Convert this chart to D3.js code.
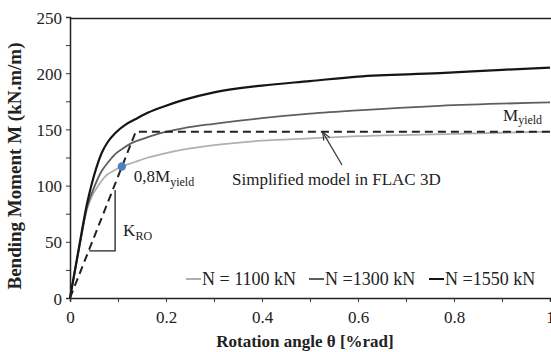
<!DOCTYPE html>
<html>
<head>
<meta charset="utf-8">
<script src="https://cdn.jsdelivr.net/npm/d3@7"></script>
<style>
  body { margin: 0; background: #fff; }
  svg { display: block; }
  text { font-family: "Liberation Serif", "Times New Roman", serif; }
</style>
</head>
<body>
<div class="chart"></div>
<script>
// Series (rotation %rad, moment kN.m/m)
const theta1100 = [0, 0.02, 0.035, 0.045, 0.056, 0.073, 0.09, 0.108, 0.135, 0.163, 0.2, 0.235, 0.3, 0.4, 0.5, 0.6, 0.8, 1.0];
const moment1100 = [0, 46, 78, 90, 98, 108, 113, 117, 121, 125, 129, 132, 136, 140, 142, 144, 146, 148];

const theta1300 = [0, 0.02, 0.035, 0.048, 0.066, 0.08, 0.094, 0.11, 0.129, 0.155, 0.183, 0.235, 0.3, 0.4, 0.5, 0.6, 0.77, 1.0];
const moment1300 = [0, 47, 80, 96, 113, 121, 128, 133, 138, 142, 146, 151, 155, 160, 164, 167, 171, 174];

const theta1550 = [0, 0.02, 0.035, 0.045, 0.055, 0.066, 0.079, 0.095, 0.115, 0.14, 0.163, 0.2, 0.235, 0.3, 0.4, 0.5, 0.6, 0.77, 0.9, 1.0];
const moment1550 = [0, 48, 83, 101, 116, 129, 139, 147, 154, 160, 165, 171, 176, 183, 189, 193, 197, 200, 203, 205];

const thetaModel = [0, 0.137, 1.0];
const momentModel = [0, 148, 148];

const seriesNames = ['N = 1100 kN', 'N =1300 kN', 'N =1550 kN'];
const seriesColors = ['#b0b0b0', '#5e5e5e', '#151515'];

const xTicks = [0, 0.2, 0.4, 0.6, 0.8, 1];
const xTickLabels = ['0', '0.2', '0.4', '0.6', '0.8', '1'];
const yTicks = [0, 50, 100, 150, 200, 250];

// annotation anchors (data space)
const yieldPoint = { theta: 0.108, moment: 117 };
const kroTriangle = [[0.04, 42], [0.094, 42], [0.094, 96]];

const width = 551, height = 352;
const margin = { left: 70, right: 1, top: 17, bottom: 54 };
const serif = '"Liberation Serif", "Times New Roman", serif';

const svg = d3.select('.chart').append('svg')
  .attr('width', width)
  .attr('height', height);

const x = d3.scaleLinear().domain([0, 1]).range([margin.left, width - margin.right]);
const y = d3.scaleLinear().domain([0, 250]).range([height - margin.bottom, margin.top]);

// top frame line
svg.append('line')
  .attr('x1', x(0)).attr('x2', width)
  .attr('y1', y(250) + 1.5).attr('y2', y(250) + 1.5)
  .attr('stroke', '#222').attr('stroke-width', 1.5);

// axes
const xAxis = d3.axisBottom(x).tickValues(d3.range(0, 1.01, 0.1)).tickSize(4)
  .tickFormat((d, i) => i % 2 === 0 ? xTickLabels[i / 2] : '');
const yAxis = d3.axisLeft(y).tickValues(d3.range(0, 251, 25)).tickSize(4)
  .tickFormat(d => yTicks.includes(d) ? d : '');

const xg = svg.append('g').attr('transform', `translate(0, ${y(0)})`).call(xAxis);
const yg = svg.append('g').attr('transform', `translate(${x(0)}, 0)`).call(yAxis);

[xg, yg].forEach(g => {
  g.attr('font-family', serif).attr('font-size', 17);
  g.select('.domain').attr('stroke', '#222').attr('stroke-width', 1.5);
  g.selectAll('.tick line').attr('stroke', '#333').attr('stroke-width', 1);
  g.selectAll('text').attr('fill', '#222');
});
xg.selectAll('text').attr('dy', '1.05em');
yg.selectAll('text').attr('x', -8).attr('dy', '0.36em');

// axis titles
svg.append('text')
  .attr('x', 305).attr('y', 347)
  .attr('text-anchor', 'middle')
  .attr('font-size', 17).attr('font-weight', 'bold').attr('fill', '#222')
  .text('Rotation angle θ [%rad]');

svg.append('text')
  .attr('transform', `translate(21, 166) rotate(-90)`)
  .attr('text-anchor', 'middle')
  .attr('font-size', 19).attr('font-weight', 'bold').attr('fill', '#222')
  .text('Bending Moment M (kN.m/m)');

// curves
const line = d3.line().x(d => x(d[0])).y(d => y(d[1])).curve(d3.curveMonotoneX);
const curves = [
  d3.zip(theta1100, moment1100),
  d3.zip(theta1300, moment1300),
  d3.zip(theta1550, moment1550)
];
const widths = [1.8, 1.8, 2.2];

svg.append('g').selectAll('path')
  .data(curves)
  .join('path')
  .attr('d', line)
  .attr('fill', 'none')
  .attr('stroke', (d, i) => seriesColors[i])
  .attr('stroke-width', (d, i) => widths[i]);

// simplified model (dashed)
svg.append('path')
  .attr('d', d3.line().x(d => x(d[0])).y(d => y(d[1]))(d3.zip(thetaModel, momentModel)))
  .attr('fill', 'none')
  .attr('stroke', '#222')
  .attr('stroke-width', 2)
  .attr('stroke-dasharray', '8,5');

// K_RO triangle
svg.append('path')
  .attr('d', d3.line().x(d => x(d[0])).y(d => y(d[1]))(kroTriangle))
  .attr('fill', 'none')
  .attr('stroke', '#222')
  .attr('stroke-width', 1.3);

const kro = svg.append('text')
  .attr('x', x(0.094) + 8).attr('y', y(55))
  .attr('font-size', 17).attr('fill', '#222');
kro.append('tspan').text('K');
kro.append('tspan').attr('font-size', 12).attr('dy', 4).text('RO');

// 0.8 M_yield point
svg.append('circle')
  .attr('cx', x(yieldPoint.theta)).attr('cy', y(yieldPoint.moment))
  .attr('r', 4.2)
  .attr('fill', '#4f7fc0');

const my8 = svg.append('text')
  .attr('x', x(yieldPoint.theta) + 12).attr('y', y(yieldPoint.moment) + 16)
  .attr('font-size', 17).attr('fill', '#222');
my8.append('tspan').text('0,8M');
my8.append('tspan').attr('font-size', 12).attr('dy', 4).text('yield');

// M_yield label
const myl = svg.append('text')
  .attr('x', 503).attr('y', y(148) - 11)
  .attr('font-size', 17).attr('fill', '#222');
myl.append('tspan').text('M');
myl.append('tspan').attr('font-size', 12).attr('dy', 3).text('yield');

// simplified model label + arrow
svg.append('defs').append('marker')
  .attr('id', 'arr')
  .attr('viewBox', '0 0 10 10')
  .attr('refX', 9).attr('refY', 5)
  .attr('markerWidth', 7).attr('markerHeight', 7)
  .attr('orient', 'auto')
  .append('path')
  .attr('d', 'M0,1 L10,5 L0,9')
  .attr('fill', 'none')
  .attr('stroke', '#333')
  .attr('stroke-width', 1.3);

svg.append('line')
  .attr('x1', 342).attr('y1', 165)
  .attr('x2', x(0.527)).attr('y2', y(148) + 1)
  .attr('stroke', '#333').attr('stroke-width', 1.2)
  .attr('marker-end', 'url(#arr)');

svg.append('text')
  .attr('x', 232).attr('y', 185)
  .attr('font-size', 17).attr('fill', '#222')
  .text('Simplified model in FLAC 3D');

// legend
const legendX = [186, 309, 429];
const legend = svg.append('g').selectAll('g')
  .data(seriesNames)
  .join('g')
  .attr('transform', (d, i) => `translate(${legendX[i]}, 285)`);

legend.append('line')
  .attr('x1', 0).attr('x2', 15)
  .attr('y1', -6).attr('y2', -6)
  .attr('stroke', (d, i) => seriesColors[i])
  .attr('stroke-width', 2);

legend.append('text')
  .attr('x', 16)
  .attr('font-size', 18).attr('fill', '#222')
  .text(d => d);
</script>
</body>
</html>
